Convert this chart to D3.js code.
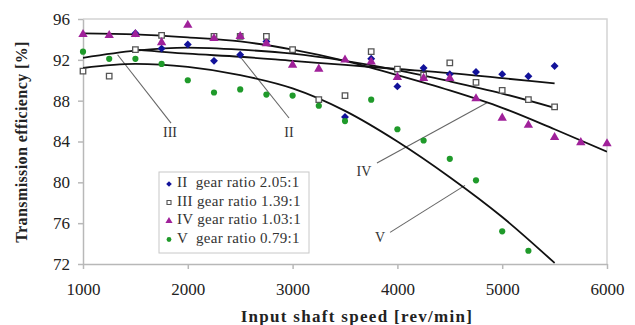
<!DOCTYPE html>
<html><head><meta charset="utf-8">
<script src="https://cdn.jsdelivr.net/npm/d3@7"></script>
<style>body{margin:0;background:#fff}svg{display:block}</style>
</head><body><svg id="c" width="635" height="325"></svg>
<script>
// ---- data ----
const xTicks = [1000, 2000, 3000, 4000, 5000, 6000];
const yTicks = [72, 76, 80, 84, 88, 92, 96];

const rpmII  = [1500,1750,2000,2250,2500,2750,3500,3750,4000,4250,4500,4750,5000,5250,5500];
const effII  = [94.6,93.1,93.5,91.9,92.5,93.8,86.4,92.1,89.4,91.2,90.6,90.8,90.6,90.4,91.4];

const rpmIII = [1000,1250,1500,1750,2250,2500,2750,3000,3250,3500,3750,4000,4250,4500,4750,5000,5250,5500];
const effIII = [90.9,90.4,93.0,94.4,94.3,94.3,94.3,93.0,88.1,88.5,92.8,91.1,90.5,91.7,89.8,89.0,88.1,87.4];

const rpmIV  = [1000,1250,1500,1750,2000,2250,2500,2750,3000,3250,3500,3750,4000,4250,4500,4750,5000,5250,5500,5750,6000];
const effIV  = [94.5,94.4,94.5,93.7,95.4,94.1,94.3,93.6,91.5,91.1,92.0,91.8,90.3,90.2,90.2,88.2,86.3,85.6,84.4,83.9,83.8];

const rpmV   = [1000,1250,1500,1750,2000,2250,2500,2750,3000,3250,3500,3750,4000,4250,4500,4750,5000,5250];
const effV   = [92.8,92.1,92.1,91.6,90.0,88.8,89.1,88.6,88.5,87.5,86.0,88.1,85.2,84.1,82.3,80.2,75.2,73.3];

// trend curves
const trendRpmII  = [1500,2000,2500,3000,3500,4000,4500,5000,5500];
const trendII     = [93.0,92.6,92.3,91.9,91.5,91.1,90.7,90.2,89.7];
const trendRpmIII = [1000,1500,2000,2500,3000,3500,4000,4500,5000,5500];
const trendIII    = [92.2,92.9,93.2,93.0,92.6,91.9,91.0,89.9,88.7,87.3];
const trendRpmIV  = [1000,1500,2000,2500,3000,3500,4000,4500,5000,5500,6000];
const trendIV     = [94.6,94.5,94.2,93.8,93.0,91.9,90.5,89.0,87.3,85.2,83.0];
const trendRpmV   = [1000,1500,2000,2500,3000,3500,4000,4500,5000,5500];
const trendV      = [91.2,91.6,91.3,90.5,89.2,87.0,84.0,80.5,76.6,72.1];

// curve labels: text, text position, leader from / to
const labelText = ["III", "II", "IV", "V"];
const labelPos  = [[1830, 84.8], [2966, 84.8], [3681, 80.9], [3834, 74.5]];
const leaderFrom = [[1840, 85.8], [2966, 86.3], [3805, 81.9], [3930, 75.1]];
const leaderTo   = [[1330, 92.5], [2500, 92.3], [4855, 87.8], [4645, 79.7]];

const legendText = ["II  gear ratio 2.05:1", "III gear ratio 1.39:1", "IV gear ratio 1.03:1", "V  gear ratio 0.79:1"];

// ---- chart ----
const svg = d3.select("#c");
const L = 83, R = 607, T = 19, B = 264;
const x = d3.scaleLinear().domain([1000, 6000]).range([L, R]);
const y = d3.scaleLinear().domain([72, 96]).range([B, T]);
const serif = "'Liberation Serif','Times New Roman',serif";

svg.append("defs").append("clipPath").attr("id","clip")
  .append("rect").attr("x",L).attr("y",T).attr("width",R-L).attr("height",B-T);

// frame
svg.append("path").attr("d",`M${L},${T}H${R}V${B}`).attr("fill","none").attr("stroke","#d4d4d4").attr("stroke-width",1.5);

const xAxis = svg.append("g").attr("transform",`translate(0,${B})`)
  .call(d3.axisBottom(x).tickValues(xTicks).tickSize(5).tickSizeOuter(0).tickPadding(14).tickFormat(d3.format("d")));
const yAxis = svg.append("g").attr("transform",`translate(${L},0)`)
  .call(d3.axisLeft(y).tickValues(yTicks).tickSize(5).tickSizeOuter(0).tickPadding(8));
[xAxis, yAxis].forEach(a => {
  a.selectAll(".domain,line").attr("stroke","#b8b8b8").attr("stroke-width",1.5);
  a.selectAll("text").attr("font-family",serif).attr("font-size",17).attr("fill","#222");
});

// axis titles
svg.append("text").attr("x",357).attr("y",322).attr("text-anchor","middle")
  .attr("font-family",serif).attr("font-weight","bold").attr("font-size",17).attr("letter-spacing",1.3)
  .attr("fill","#222").text("Input shaft speed [rev/min]");
svg.append("text").attr("transform","translate(27,142) rotate(-90)").attr("text-anchor","middle")
  .attr("font-family",serif).attr("font-weight","bold").attr("font-size",16).attr("letter-spacing",0.4)
  .attr("fill","#222").text("Transmission efficiency [%]");

// leader lines and labels
const gl = svg.append("g");
labelText.forEach((t,i) => {
  gl.append("line")
    .attr("x1",x(leaderFrom[i][0])).attr("y1",y(leaderFrom[i][1]))
    .attr("x2",x(leaderTo[i][0])).attr("y2",y(leaderTo[i][1]))
    .attr("stroke","#666").attr("stroke-width",1.1);
  gl.append("text").attr("x",x(labelPos[i][0])).attr("y",y(labelPos[i][1]))
    .attr("text-anchor","middle").attr("dominant-baseline","middle")
    .attr("font-family",serif).attr("font-size",14).attr("fill","#333").text(t);
});

// trend curves
const line = d3.line().x(d=>x(d[0])).y(d=>y(d[1])).curve(d3.curveMonotoneX);
const gc = svg.append("g").attr("clip-path","url(#clip)");
[[trendRpmII,trendII],[trendRpmIII,trendIII],[trendRpmIV,trendIV],[trendRpmV,trendV]].forEach(([xs,ys]) => {
  gc.append("path").attr("d", line(xs.map((v,i)=>[v,ys[i]])))
    .attr("fill","none").attr("stroke","#111").attr("stroke-width",1.8);
});

// markers
const cII = "#12129a", cIII = "#555", cIV = "#a0219a", cV = "#1f9a2a";
const diamond = d3.symbol().type(d3.symbolDiamond2).size(40);
const square  = d3.symbol().type(d3.symbolSquare).size(30);
const tri     = d3.symbol().type(d3.symbolTriangle).size(38);
const circ    = d3.symbol().type(d3.symbolCircle).size(30);

function drawSeries(g, xs, ys, sym, fill, stroke, sw) {
  g.selectAll(null).data(xs.map((v,i)=>[v,ys[i]])).enter().append("path")
    .attr("d", sym).attr("transform", d=>`translate(${x(d[0])},${y(d[1])})`)
    .attr("fill", fill).attr("stroke", stroke).attr("stroke-width", sw);
}
const gm = svg.append("g");
drawSeries(gm, rpmII, effII, diamond, cII, "none", 0);
drawSeries(gm, rpmIII, effIII, square, "#fff", cIII, 1.3);
drawSeries(gm, rpmIV, effIV, tri, cIV, "none", 0);
drawSeries(gm, rpmV, effV, circ, cV, "none", 0);

// legend
const lg = svg.append("g").attr("transform","translate(159,172)");
lg.append("rect").attr("width",150).attr("height",81).attr("fill","#fff").attr("stroke","#c8c8c8").attr("stroke-width",1);
const legSyms = [[d3.symbol().type(d3.symbolDiamond2).size(20), cII, "none", 0],
                 [d3.symbol().type(d3.symbolSquare).size(16), "#fff", cIII, 1.1],
                 [d3.symbol().type(d3.symbolTriangle).size(22), cIV, "none", 0],
                 [d3.symbol().type(d3.symbolCircle).size(18), cV, "none", 0]];
legendText.forEach((t,i) => {
  const yy = 12 + i*18.5;
  lg.append("path").attr("d", legSyms[i][0]).attr("transform",`translate(10,${yy})`)
    .attr("fill",legSyms[i][1]).attr("stroke",legSyms[i][2]).attr("stroke-width",legSyms[i][3]);
  lg.append("text").attr("x",18).attr("y",yy).attr("dominant-baseline","middle")
    .attr("font-family",serif).attr("font-size",15).attr("letter-spacing",0.3).attr("fill","#333")
    .attr("xml:space","preserve").style("white-space","pre").text(t);
});
</script></body></html>
